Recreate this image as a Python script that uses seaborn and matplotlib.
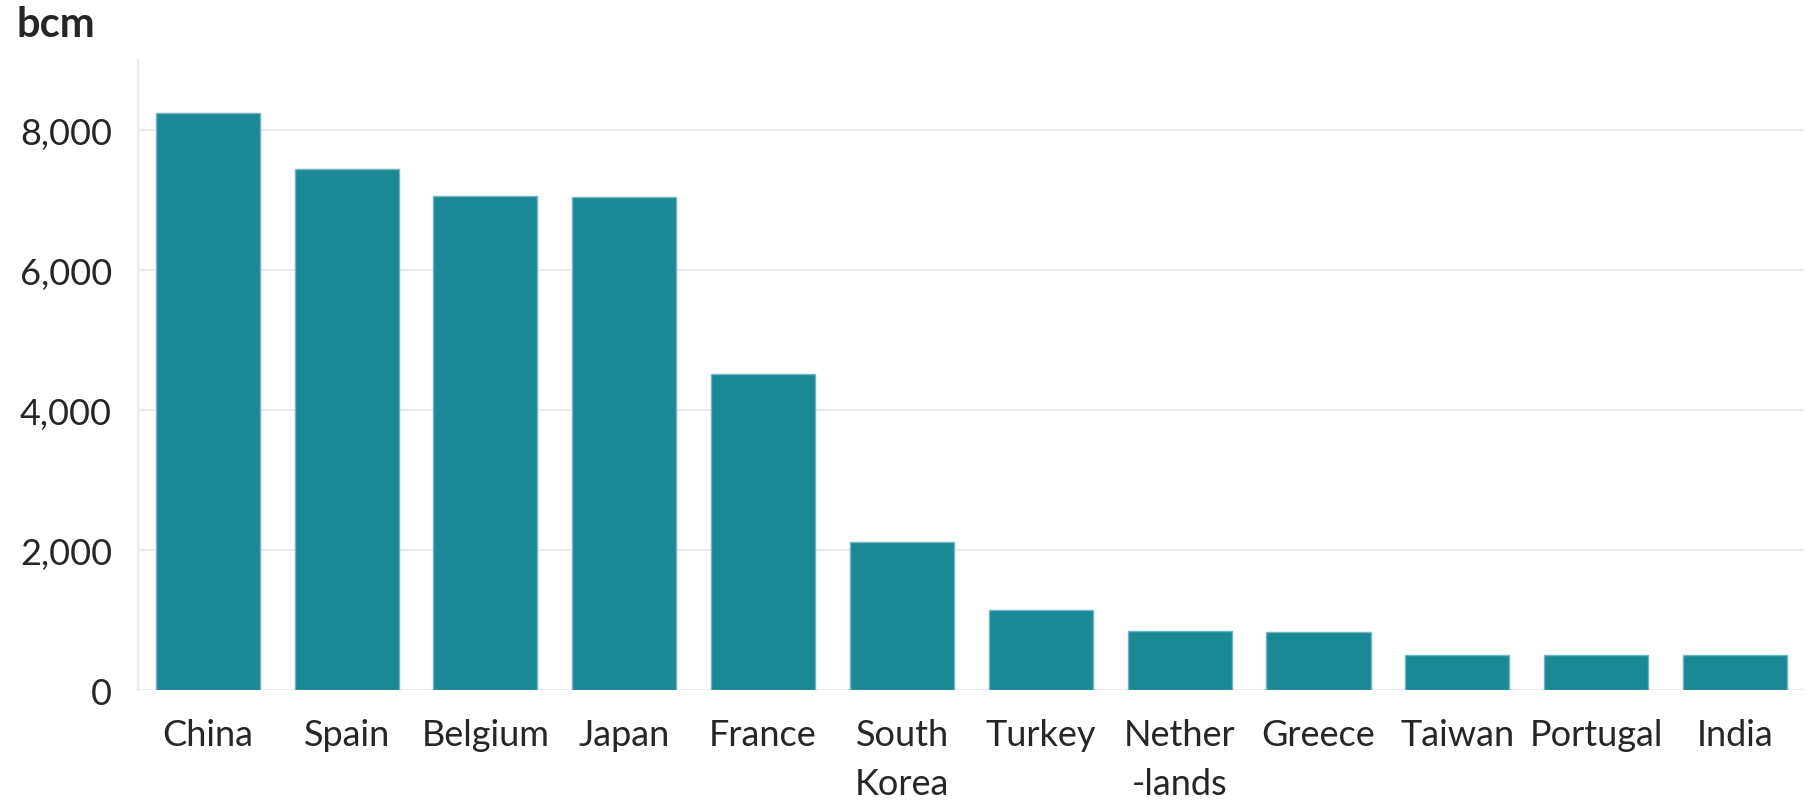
import matplotlib
matplotlib.use("Agg")
import matplotlib.pyplot as plt
import seaborn as sns
import pandas as pd
from matplotlib.ticker import StrMethodFormatter

# Giá trị (bcm)
countries = ["China", "Spain", "Belgium", "Japan", "France", "South\nKorea",
             "Turkey", "Nether\n-lands", "Greece", "Taiwan", "Portugal", "India"]
values = [8250, 7450, 7060, 7040, 4515, 2120, 1150, 840, 830, 505, 505, 505]
y_ticks = [0, 2000, 4000, 6000, 8000]

bar_color = "#1b8896"
grid_color = "#ebebeb"

sns.set_style("white")
plt.rcParams["font.family"] = ["Lato", "DejaVu Sans"]

df = pd.DataFrame({"country": countries, "value": values})

fig = plt.figure(figsize=(18.08, 8.04), dpi=100)
ax = fig.add_axes([0.0765, 0.1405, 0.9215, 0.7835])

sns.barplot(data=df, x="country", y="value", color=bar_color, saturation=1,
            width=0.75, edgecolor="#6fb6c0", linewidth=1.0, ax=ax, zorder=3)

ax.set_xlim(-0.5, 11.5)
ax.set_ylim(0, 9000)
ax.set_yticks(y_ticks)
ax.yaxis.set_major_formatter(StrMethodFormatter("{x:,.0f}"))
ax.grid(axis="y", color=grid_color, linewidth=1.6, zorder=0)
ax.set_axisbelow(True)

for side in ["top", "right", "bottom"]:
    ax.spines[side].set_visible(False)
ax.spines["left"].set_color(grid_color)
ax.spines["left"].set_linewidth(1.6)

ax.tick_params(axis="y", length=14, width=1.6, color=grid_color, pad=5, labelsize=26)
ax.tick_params(axis="x", length=7, width=1.6, color=grid_color, pad=13, labelsize=26)
for lbl in ax.get_xticklabels():
    lbl.set_linespacing(1.6)
    lbl.set_verticalalignment("top")

ax.set_xlabel("")
ax.set_ylabel("")

fig.text(0.009, 0.969, "bcm", fontsize=30, fontweight="bold", ha="left", va="center")

fig.savefig("out.png", dpi=100, facecolor="white")
